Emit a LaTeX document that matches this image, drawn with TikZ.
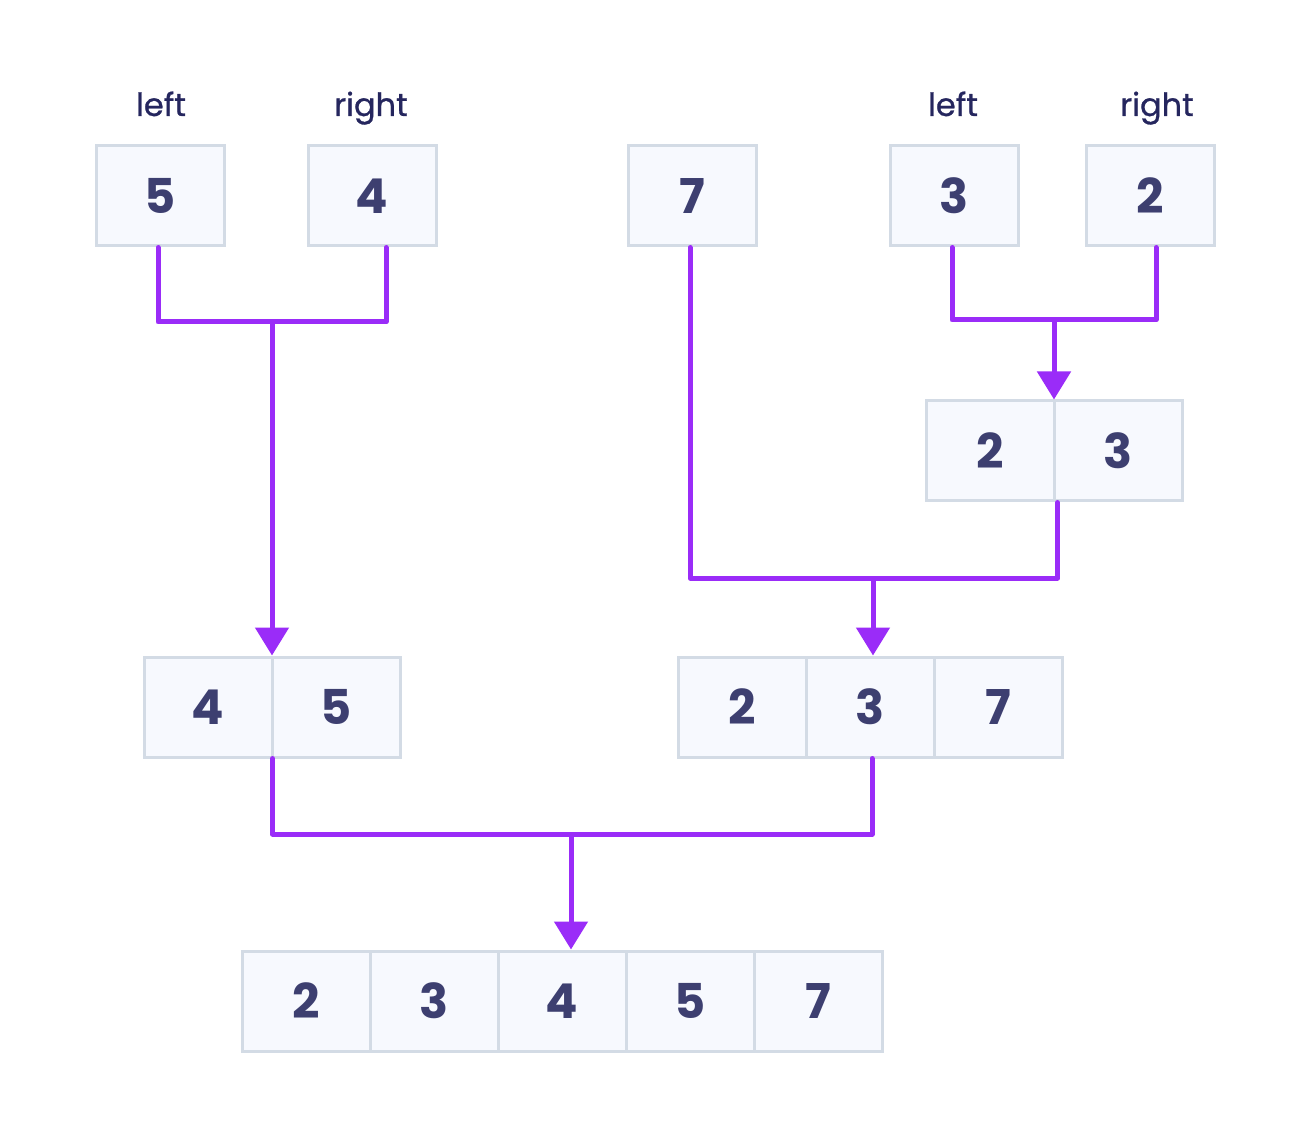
\documentclass[tikz,border=0pt]{standalone}
\usepackage{fontspec}
\setmainfont{Poppins}
\newfontfamily\labfont{Poppins}[FakeBold=0.8]
\usetikzlibrary{arrows.meta}
\definecolor{cellfill}{HTML}{F7F9FE}
\definecolor{celldraw}{HTML}{D3DBE5}
\definecolor{numtext}{HTML}{3D3F70}
\definecolor{labtext}{HTML}{25265E}
\definecolor{wire}{HTML}{9A2CF8}
\tikzset{
  cell/.style={draw=celldraw, fill=cellfill, line width=1.5pt, minimum width=64pt, minimum height=50pt,
    inner sep=0pt, text=numtext, font=\fontsize{24}{28}\selectfont\bfseries},
  lab/.style={text=labtext, font=\labfont\fontsize{16}{19}\selectfont, inner sep=0pt, anchor=base},
  wirel/.style={draw=wire, line width=2.5pt, line join=round, line cap=round},
  arr/.style={wirel, -{Triangle[width=16.5pt,length=14pt]}, line cap=butt, shorten >=0pt}
}
\begin{document}
\begin{tikzpicture}[x=0.5pt,y=-0.5pt]
\useasboundingbox[fill=white] (0,0) rectangle (1308,1134);
% labels
\node[lab] (l1) at (161,116) {left};
\node[lab] (r1) at (371,116) {right};
\node[lab] (l2) at (953,116) {left};
\node[lab] (r2) at (1157,116) {right};
% top boxes
\node[cell] (n5) at (160,196) {\raisebox{-1pt}{5}};
\node[cell] (n4) at (372,196) {\raisebox{-1pt}{4}};
\node[cell] (n7) at (692,196) {\raisebox{-1pt}{7}};
\node[cell] (n3) at (954,196) {\raisebox{-1pt}{3}};
\node[cell] (n2) at (1150,196) {\raisebox{-1pt}{2}};
% row 2|3
\node[cell] (p2) at (990,451) {\raisebox{-1pt}{2}};
\node[cell] (p3) at (1118,451) {\raisebox{-1pt}{3}};
% row 4|5
\node[cell] (r4) at (208,707) {\raisebox{-1pt}{4}};
\node[cell] (r5) at (336,707) {\raisebox{-1pt}{5}};
% row 2|3|7
\node[cell] (q2) at (742,707) {\raisebox{-1pt}{2}};
\node[cell] (q3) at (870,707) {\raisebox{-1pt}{3}};
\node[cell] (q7) at (998,707) {\raisebox{-1pt}{7}};
% bottom row
\node[cell] (s2) at (306,1001) {\raisebox{-1pt}{2}};
\node[cell] (s3) at (434,1001) {\raisebox{-1pt}{3}};
\node[cell] (s4) at (562,1001) {\raisebox{-1pt}{4}};
\node[cell] (s5) at (690,1001) {\raisebox{-1pt}{5}};
\node[cell] (s7) at (818,1001) {\raisebox{-1pt}{7}};
% join points
\coordinate (j1) at (272,322);
\coordinate (j2) at (1054,320);
\coordinate (j3) at (873,578);
\coordinate (j4) at (571,834);
% brackets
\draw[wirel] ([xshift=-1pt]n5.south) |- (j1) -| ([xshift=7pt]n4.south);
\draw[wirel] ([xshift=-1pt]n3.south) |- (j2) -| ([xshift=3pt]n2.south);
\draw[wirel] ([xshift=-1pt]n7.south) |- (j3) -| ([xshift=1pt]p2.south east);
\draw[wirel] ([xshift=-0.5pt]r4.south east) |- (j4) -| ([xshift=1pt]q3.south);
% arrows
\draw[arr] (j1) -- (j1 |- r4.north east);
\draw[arr] (j2) -- (j2 |- p2.north east);
\draw[arr] (j3) -- (j3 |- q3.north);
\draw[arr] (j4) -- (j4 |- s4.north);
\end{tikzpicture}
\end{document}
